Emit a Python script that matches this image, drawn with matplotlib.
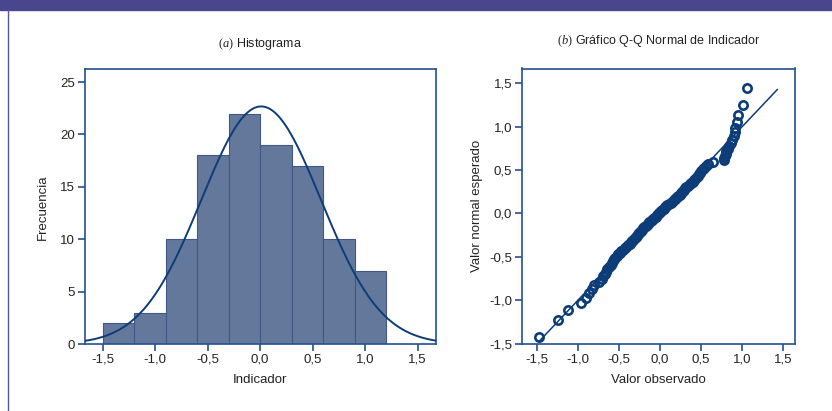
import numpy as np
import matplotlib
matplotlib.use("Agg")
import matplotlib.pyplot as plt
from statistics import NormalDist

plt.rcParams["font.family"] = ["Liberation Sans", "DejaVu Sans"]
plt.rcParams["mathtext.fontset"] = "custom"
plt.rcParams["mathtext.rm"] = "Liberation Serif"
plt.rcParams["mathtext.it"] = "Liberation Serif:italic"

# ---- data -------------------------------------------------------------
bin_edges = [-1.5, -1.2, -0.9, -0.6, -0.3, 0.0, 0.3, 0.6, 0.9, 1.2]
counts = [2, 3, 10, 18, 22, 19, 17, 10, 7]

fit_mean = 0.01
fit_sd = 0.57

# sorted observed values of the indicator (n = 108)
observed = [
    -1.476, -1.24, -1.126, -0.963, -0.906,
    -0.866, -0.83, -0.80, -0.75, -0.71, -0.69, -0.675, -0.66, -0.645, -0.62,
    -0.595, -0.585, -0.575, -0.565, -0.55, -0.53, -0.51, -0.49, -0.47, -0.45,
    -0.43, -0.41, -0.39, -0.37, -0.36, -0.345, -0.33, -0.31,
    -0.295, -0.28, -0.27, -0.255, -0.245, -0.235, -0.225, -0.21, -0.195,
    -0.175, -0.16, -0.145, -0.13, -0.115, -0.10, -0.085, -0.07, -0.055,
    -0.04, -0.03, -0.015, -0.005,
    0.01, 0.03, 0.05, 0.065, 0.075, 0.09, 0.11, 0.13, 0.15, 0.165, 0.18,
    0.195, 0.21, 0.225, 0.24, 0.255, 0.27, 0.28, 0.29,
    0.305, 0.32, 0.34, 0.36, 0.38, 0.40, 0.415, 0.43, 0.445, 0.46, 0.475,
    0.49, 0.505, 0.52, 0.54, 0.56, 0.59,
    0.64, 0.775, 0.78, 0.79, 0.80, 0.81, 0.83, 0.845, 0.86, 0.875,
    0.905, 0.91, 0.92, 0.935, 0.945, 1.01, 1.06,
]

ref_line_x = [-1.48, 1.43]

hist_xticks = [-1.5, -1.0, -0.5, 0.0, 0.5, 1.0, 1.5]
hist_yticks = [0, 5, 10, 15, 20, 25]
qq_ticks = [-1.5, -1.0, -0.5, 0.0, 0.5, 1.0, 1.5]

# ---- styling ------------------------------------------------------------
SPINE = "#24528f"
NAVY = "#0d3d78"
BAR = "#63789b"
BAR_EDGE = "#3f5886"
BANNER = "#4a468e"
TEXT = "#222222"


def comma(v, dec=1):
    return f"{v:.{dec}f}".replace(".", ",").replace("-0,0", "0,0")


def style_axes(ax):
    for s in ax.spines.values():
        s.set_color(SPINE)
        s.set_linewidth(1.2)
    ax.tick_params(direction="out", length=5, width=1.2, color=SPINE,
                   labelsize=9.5, labelcolor=TEXT, pad=2)


fig = plt.figure(figsize=(8.32, 4.11), dpi=100)

# top banner and left rule
fig.patches.append(plt.Rectangle((0, 1 - 10 / 411), 1, 10 / 411,
                                 transform=fig.transFigure,
                                 color=BANNER, zorder=0))
fig.lines.append(plt.Line2D([8 / 832, 8 / 832], [0, 1 - 10 / 411],
                            transform=fig.transFigure, color="#5552a8",
                            linewidth=1.0))

# ---- (a) histogram ------------------------------------------------------
ax1 = fig.add_axes([84.5 / 832, 1 - 344 / 411, (436 - 84.5) / 832, (344 - 69.5) / 411])
widths = np.diff(bin_edges)
ax1.bar(bin_edges[:-1], counts, width=widths, align="edge", color=BAR,
        edgecolor=BAR_EDGE, linewidth=0.8, zorder=2)

n_obs = sum(counts)
bw = widths[0]
xs = np.linspace(-1.672, 1.675, 400)
pdf = np.exp(-0.5 * ((xs - fit_mean) / fit_sd) ** 2) / (fit_sd * np.sqrt(2 * np.pi))
ax1.plot(xs, n_obs * bw * pdf, color=NAVY, linewidth=1.4, zorder=3)

ax1.set_xlim(-1.672, 1.675)
ax1.set_ylim(0, 26.2)
ax1.set_xticks(hist_xticks)
ax1.set_xticklabels([comma(v) for v in hist_xticks])
ax1.set_yticks(hist_yticks)
ax1.set_yticklabels([str(v) for v in hist_yticks])
style_axes(ax1)
ax1.set_xlabel("Indicador", fontsize=9.5, color=TEXT, labelpad=6)
ax1.set_ylabel("Frecuencia", fontsize=9.5, color=TEXT, labelpad=8)
ax1.set_title(r"$(\mathit{a})$ Histograma", fontsize=9, color=TEXT, pad=16)

# ---- (b) normal Q-Q plot ------------------------------------------------
ax2 = fig.add_axes([521.7 / 832, 1 - 343.5 / 411, (795 - 521.7) / 832, (343.5 - 68.5) / 411])
n = len(observed)
dist = NormalDist(fit_mean, fit_sd)
expected = [dist.inv_cdf((i - 0.375) / (n + 0.25)) for i in range(1, n + 1)]

ax2.plot(ref_line_x, ref_line_x, color=NAVY, linewidth=1.1, zorder=2)
ax2.plot(observed, expected, linestyle="none", marker="o", markersize=6,
         markerfacecolor="none", markeredgecolor=NAVY, markeredgewidth=1.9,
         zorder=3)

ax2.set_xlim(-1.687, 1.646)
ax2.set_ylim(-1.5, 1.673)
ax2.set_xticks(qq_ticks)
ax2.set_xticklabels([comma(v) for v in qq_ticks])
ax2.set_yticks(qq_ticks)
ax2.set_yticklabels([comma(v) for v in qq_ticks])
style_axes(ax2)
ax2.set_xlabel("Valor observado", fontsize=9.5, color=TEXT, labelpad=6)
ax2.set_ylabel("Valor normal esperado", fontsize=9.5, color=TEXT, labelpad=4)
ax2.set_title(r"$(\mathit{b})$ Gráfico Q-Q Normal de Indicador", fontsize=9,
              color=TEXT, pad=17.5)

fig.savefig("out.png", dpi=100, facecolor="white")
